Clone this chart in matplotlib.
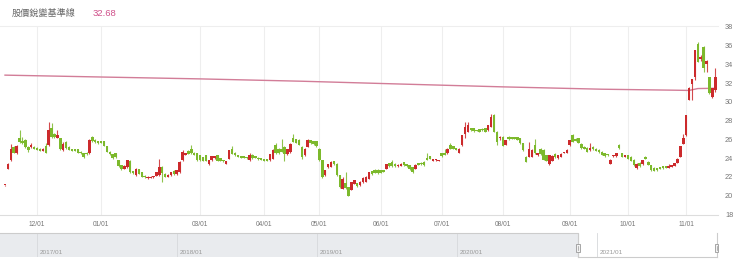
import matplotlib.pyplot as plt
import numpy as np

plt.rcParams['font.family'] = ['Liberation Sans', 'DejaVu Sans']

# daily OHLC, one trading day per slot (mid Nov 2020 -> mid Nov 2021)
opens = [
    21.1, 22.9, 23.8, 25.2, 24.5, 26.2, 25.85, 25.9, 25.2, 25.2,
    25.2, 25.1, 25.0, 24.8, 25.3, 25.4, 27.2, 26.6, 26.2, 26.1,
    24.85, 25.7, 25.2, 24.95, 24.95, 24.95, 24.7, 24.5, 24.6, 24.5,
    26.3, 25.95, 25.8, 25.75, 25.8, 25.3, 24.7, 24.4, 24.5, 23.8,
    23.25, 22.9, 23.05, 23.7, 22.6, 22.2, 22.8, 22.5, 22.15, 21.85,
    21.9, 22.0, 22.1, 22.2, 23.1, 22.35, 22.0, 22.2, 22.65, 22.3,
    22.5, 23.8, 24.35, 24.75, 25.0, 24.6, 24.5, 24.3, 24.1, 24.3,
    23.35, 23.8, 24.0, 24.3, 24.0, 23.8, 23.4, 23.95, 25.0, 24.6,
    24.3, 24.15, 24.15, 24.1, 23.8, 24.35, 24.2, 24.05, 23.95, 23.85,
    23.8, 23.8, 23.95, 25.4, 25.0, 24.95, 25.2, 24.4, 24.65, 26.1,
    26.0, 25.95, 25.2, 24.3, 25.2, 25.9, 25.8, 25.8, 25.0, 23.8,
    22.2, 23.05, 23.1, 23.7, 23.4, 22.2, 20.75, 21.4, 20.9, 20.65,
    21.3, 21.35, 21.1, 21.45, 21.5, 21.8, 22.6, 22.75, 22.75, 22.7,
    22.6, 22.9, 23.45, 23.55, 23.4, 23.15, 23.2, 23.55, 23.35, 23.25,
    23.05, 22.9, 23.45, 23.5, 23.6, 24.05, 24.2, 23.7, 23.8, 23.7,
    24.5, 24.5, 24.5, 25.45, 25.3, 25.05, 24.6, 25.4, 26.6, 26.8,
    27.2, 27.2, 27.0, 27.1, 27.15, 27.2, 27.0, 27.35, 28.6, 26.8,
    26.1, 26.3, 25.45, 26.3, 26.25, 26.25, 26.25, 26.15, 25.6, 24.15,
    24.15, 24.15, 25.4, 24.3, 25.0, 24.9, 24.3, 23.4, 23.7, 24.45,
    24.0, 24.15, 24.55, 24.55, 25.4, 26.45, 26.05, 26.1, 25.55, 25.2,
    25.1, 24.85, 25.2, 25.0, 24.9, 24.7, 24.5, 24.35, 23.4, 24.2,
    24.2, 25.45, 24.5, 24.15, 24.3, 24.15, 23.85, 23.0, 23.5, 23.35,
    24.15, 23.6, 23.25, 23.0, 22.95, 23.0, 23.15, 23.05, 23.0, 23.1,
    23.2, 23.5, 24.15, 25.55, 26.45, 30.25, 31.95, 32.6, 36.15, 34.55,
    35.9, 34.05, 32.6, 30.55, 31.25,
]
highs = [
    21.15, 23.5, 25.5, 25.3, 25.4, 27.0, 26.3, 26.0, 25.3, 25.6,
    25.3, 25.2, 25.1, 25.1, 25.6, 27.9, 27.8, 26.7, 27.0, 26.2,
    25.7, 25.8, 25.3, 25.0, 25.0, 25.0, 24.75, 24.6, 24.65, 26.0,
    26.4, 26.0, 25.85, 25.8, 25.85, 25.35, 24.8, 24.45, 24.6, 23.85,
    23.3, 23.25, 23.85, 23.8, 22.65, 22.95, 22.85, 22.55, 22.2, 22.05,
    22.05, 22.1, 22.55, 23.95, 23.2, 22.4, 22.3, 22.55, 22.7, 22.75,
    23.7, 24.9, 24.6, 24.85, 25.4, 24.65, 24.55, 24.35, 24.15, 24.35,
    23.85, 24.25, 24.25, 24.35, 24.05, 23.85, 23.75, 24.9, 25.3, 24.65,
    24.35, 24.2, 24.2, 24.15, 24.6, 24.4, 24.25, 24.1, 24.0, 23.9,
    23.9, 24.45, 24.95, 25.6, 25.05, 26.0, 25.25, 25.0, 25.6, 26.6,
    26.05, 26.0, 25.25, 25.05, 26.0, 25.95, 25.85, 25.85, 25.05, 23.85,
    22.75, 23.4, 23.65, 23.75, 23.45, 22.25, 22.0, 22.5, 20.95, 21.5,
    21.7, 21.4, 21.55, 21.95, 22.05, 22.55, 22.65, 22.8, 22.8, 22.75,
    22.65, 23.4, 23.5, 23.8, 23.45, 23.35, 23.45, 23.6, 23.4, 23.3,
    23.1, 23.35, 23.5, 23.55, 23.65, 24.55, 24.25, 23.95, 23.9, 23.85,
    24.55, 24.95, 25.05, 25.65, 25.35, 25.1, 25.05, 26.5, 27.9, 27.9,
    27.25, 27.25, 27.05, 27.15, 27.2, 27.25, 27.55, 28.7, 28.7, 26.85,
    26.4, 26.4, 25.95, 26.35, 26.3, 26.3, 26.3, 26.2, 25.65, 24.2,
    25.7, 25.0, 26.0, 24.6, 25.1, 24.95, 24.35, 24.35, 24.3, 24.5,
    24.35, 24.5, 24.7, 24.95, 25.95, 26.6, 26.1, 26.15, 25.6, 25.25,
    25.15, 25.6, 25.25, 25.05, 24.95, 24.75, 24.55, 24.4, 23.9, 24.35,
    24.55, 25.5, 24.55, 24.35, 24.35, 24.2, 23.9, 23.45, 23.55, 23.85,
    24.2, 23.65, 23.3, 23.05, 23.0, 23.05, 23.2, 23.1, 23.4, 23.3,
    23.5, 24.0, 25.35, 26.6, 28.6, 31.55, 32.45, 35.55, 36.4, 35.0,
    36.0, 34.5, 32.7, 31.5, 33.6,
]
lows = [
    21.05, 22.85, 23.7, 24.5, 24.4, 25.6, 25.5, 25.1, 24.7, 25.1,
    24.95, 24.85, 24.75, 24.75, 24.5, 25.3, 26.2, 26.2, 26.1, 24.9,
    24.8, 25.0, 24.85, 24.75, 24.75, 24.55, 24.45, 24.05, 24.35, 24.45,
    25.7, 25.65, 25.55, 25.6, 25.25, 24.65, 24.35, 23.95, 24.0, 23.1,
    22.75, 22.85, 23.0, 22.45, 22.35, 22.15, 22.3, 21.95, 21.9, 21.8,
    21.85, 21.9, 22.05, 22.1, 21.45, 21.95, 21.95, 22.15, 22.25, 22.25,
    22.4, 23.75, 24.3, 24.4, 24.45, 24.3, 23.75, 23.75, 23.65, 23.65,
    23.3, 23.75, 23.95, 23.65, 23.65, 23.6, 23.35, 23.9, 24.4, 24.25,
    24.1, 24.0, 24.0, 23.95, 23.75, 23.95, 24.0, 23.85, 23.8, 23.7,
    23.7, 23.75, 23.9, 24.45, 24.45, 24.65, 23.7, 24.35, 24.6, 25.7,
    25.6, 25.4, 23.95, 24.25, 25.15, 25.55, 25.45, 25.2, 23.75, 21.9,
    22.15, 23.0, 23.05, 23.3, 22.15, 20.85, 20.7, 20.7, 19.95, 20.6,
    21.25, 20.95, 21.05, 21.4, 21.45, 21.75, 22.25, 22.4, 22.35, 22.4,
    22.5, 22.85, 23.1, 23.1, 23.1, 23.1, 23.15, 23.2, 23.1, 22.75,
    22.45, 22.85, 23.25, 23.3, 23.2, 23.8, 23.9, 23.65, 23.75, 23.65,
    24.15, 24.3, 24.45, 24.95, 24.95, 24.85, 24.55, 25.35, 26.1, 26.75,
    26.95, 26.8, 26.85, 26.75, 26.95, 26.75, 26.95, 27.3, 26.75, 25.4,
    25.9, 25.3, 25.4, 25.95, 26.0, 26.0, 25.9, 25.55, 24.8, 23.55,
    24.1, 24.1, 24.45, 24.25, 24.35, 23.8, 23.7, 23.3, 23.65, 24.05,
    23.95, 24.1, 24.5, 24.5, 25.35, 25.7, 25.8, 25.6, 25.0, 24.95,
    24.65, 24.8, 24.9, 24.75, 24.6, 24.3, 24.15, 24.25, 23.35, 24.15,
    24.15, 25.0, 24.1, 24.1, 23.9, 23.65, 23.2, 22.85, 23.1, 23.3,
    23.9, 23.25, 22.65, 22.6, 22.65, 22.85, 22.9, 22.95, 22.95, 23.05,
    23.15, 23.45, 24.1, 25.5, 26.4, 30.2, 30.2, 32.3, 34.2, 34.4,
    33.2, 33.2, 30.8, 30.4, 31.1,
]
closes = [
    21.1, 23.4, 25.0, 24.6, 25.3, 25.7, 25.6, 25.2, 24.9, 25.4,
    25.0, 24.9, 24.8, 25.0, 24.6, 27.0, 26.3, 26.3, 26.5, 25.0,
    25.55, 25.1, 24.9, 24.8, 24.8, 24.6, 24.5, 24.1, 24.4, 25.9,
    25.8, 25.7, 25.6, 25.65, 25.3, 24.7, 24.4, 24.0, 24.1, 23.15,
    22.8, 23.2, 23.8, 22.5, 22.4, 22.9, 22.35, 22.0, 21.95, 22.0,
    22.0, 22.05, 22.5, 23.1, 22.4, 22.0, 22.25, 22.5, 22.3, 22.7,
    23.6, 24.65, 24.55, 24.45, 24.5, 24.35, 23.8, 23.8, 23.7, 23.7,
    23.8, 24.2, 24.2, 23.7, 23.7, 23.65, 23.7, 24.85, 24.45, 24.3,
    24.15, 24.05, 24.05, 24.0, 24.3, 24.0, 24.05, 23.9, 23.85, 23.75,
    23.75, 24.4, 24.9, 24.5, 24.5, 24.7, 24.4, 24.95, 25.55, 25.75,
    25.65, 25.45, 24.1, 25.0, 25.95, 25.6, 25.5, 25.25, 23.8, 22.0,
    22.7, 23.35, 23.6, 23.35, 22.2, 20.9, 21.8, 20.8, 20.0, 21.45,
    21.65, 21.0, 21.5, 21.9, 22.0, 22.5, 22.3, 22.45, 22.4, 22.45,
    22.55, 23.35, 23.15, 23.15, 23.15, 23.3, 23.4, 23.25, 23.15, 22.8,
    22.5, 23.3, 23.3, 23.35, 23.25, 23.85, 23.95, 23.9, 23.85, 23.8,
    24.2, 24.35, 25.0, 25.0, 25.0, 24.9, 25.0, 26.45, 27.35, 27.5,
    27.0, 26.85, 26.9, 26.8, 27.0, 26.8, 27.5, 28.4, 26.8, 25.75,
    26.2, 25.35, 25.9, 26.0, 26.05, 26.05, 25.95, 25.6, 24.85, 23.6,
    25.0, 24.85, 24.5, 24.55, 24.4, 23.85, 23.75, 24.3, 24.25, 24.1,
    24.3, 24.45, 24.65, 24.9, 25.9, 25.75, 25.85, 25.65, 25.05, 25.0,
    24.7, 25.05, 24.95, 24.8, 24.65, 24.35, 24.2, 24.3, 23.85, 24.3,
    24.5, 25.05, 24.15, 24.3, 23.95, 23.7, 23.25, 23.4, 23.15, 23.8,
    23.95, 23.3, 22.7, 22.65, 22.7, 22.9, 22.95, 23.0, 23.15, 23.25,
    23.45, 23.95, 25.3, 26.1, 28.6, 31.45, 32.4, 35.5, 34.3, 34.8,
    33.6, 34.4, 30.9, 31.45, 32.6,
]

# 股價銳變基準線 (sampled along the series)
base_idx = [0, 33, 67, 102, 136, 171, 205, 229, 235, 238, 244]
base_vals = [32.85, 32.65, 32.45, 32.2, 31.9, 31.6, 31.35, 31.25, 31.22, 31.42, 31.45]
base_label = '32.68'

month_idx = [11, 33, 67, 89, 108, 129, 150, 171, 194, 214, 234]
month_labels = ['12/01', '01/01', '03/01', '04/01', '05/01', '06/01',
                '07/01', '08/01', '09/01', '10/01', '11/01']
y_ticks = [18, 20, 22, 24, 26, 28, 30, 32, 34, 36, 38]

nav_years = [2017, 2018, 2019, 2020, 2021]
nav_labels = ['2017/01', '2018/01', '2019/01', '2020/01', '2021/01']
nav_range = (2016.736, 2021.864)
nav_selected = (2020.864, 2021.855)

RED = '#cc2a2c'
GREEN = '#7cb92c'
LINE = '#d27d98'

fig = plt.figure(figsize=(7.4, 2.63), dpi=100)
W, H = 740, 263
ax = fig.add_axes([0, 1 - 214.5 / H, 718 / W, (214.5 - 26) / H])

n = len(closes)
x = np.arange(n)
o = np.array(opens)
c = np.array(closes)
up = c >= o
colors = np.where(up, RED, GREEN)

ax.vlines(x, lows, highs, colors=colors, linewidth=0.8, alpha=0.85, zorder=3)
bottoms = np.minimum(o, c)
heights = np.maximum(np.abs(c - o), 0.14)
ax.bar(x, heights, bottom=bottoms, width=0.86, color=colors, linewidth=0, zorder=4)

ax.plot(base_idx, base_vals, color=LINE, linewidth=1.0, zorder=2)

ax.set_xlim(-5 / 2.911, 713 / 2.911)
ax.set_ylim(18, 18 + 188.5 / 9.385)
ax.set_xticks(month_idx)
ax.set_xticklabels(month_labels)
ax.set_yticks(y_ticks)
ax.yaxis.tick_right()
ax.tick_params(axis='y', length=0, pad=5, labelsize=5.3, labelcolor='#777')
ax.tick_params(axis='x', length=0, pad=4.5, labelsize=4.8, labelcolor='#777')
ax.grid(axis='x', color='#eeeeee', linewidth=0.8)
for side in ['left', 'right']:
    ax.spines[side].set_visible(False)
ax.spines['bottom'].set_color('#dddddd')
ax.spines['top'].set_color('#eeeeee')

fig.text(11.5 / W, 1 - 13.5 / H, '股價銳變基準線', fontsize=6.6, color='#666',
         family=['Noto Sans CJK TC', 'DejaVu Sans'], va='center', ha='left')
fig.text(92.5 / W, 1 - 13.5 / H, base_label, fontsize=6.8, color='#d0508a',
         va='center', ha='left')

# navigator strip
nav = fig.add_axes([0, 1 - 257 / H, 718 / W, 24 / H])
nav.set_xlim(*nav_range)
nav.set_ylim(0, 1)
nav.axvspan(nav_range[0], nav_selected[0], color='#e9ebee', zorder=0)
for yr, lab in zip(nav_years, nav_labels):
    nav.axvline(yr, color='#d6d8db', linewidth=0.6, zorder=1)
    nav.text(yr + 0.02, 0.2, lab, fontsize=4.6, color='#999', va='center', ha='left')
nav.plot([nav_range[0], nav_selected[0], nav_selected[0]], [1, 1, 0],
         color='#cccccc', linewidth=0.8, zorder=2, clip_on=False)
nav.plot([nav_selected[0], nav_selected[1]], [0.02, 0.02], color='#cccccc',
         linewidth=0.8, zorder=2, clip_on=False)
nav.plot([nav_selected[1], nav_selected[1]], [0.02, 1], color='#cccccc',
         linewidth=0.8, zorder=2, clip_on=False)
for hx in nav_selected:
    nav.add_patch(plt.Rectangle((hx - 0.012, 0.22), 0.024, 0.32, facecolor='#f2f2f2',
                                edgecolor='#999', linewidth=0.6, zorder=3, clip_on=False))
    nav.plot([hx, hx], [0.3, 0.46], color='#999', linewidth=0.5, zorder=4, clip_on=False)
nav.set_xticks([])
nav.set_yticks([])
for s in nav.spines.values():
    s.set_visible(False)

fig.savefig('out.png', dpi=100)
